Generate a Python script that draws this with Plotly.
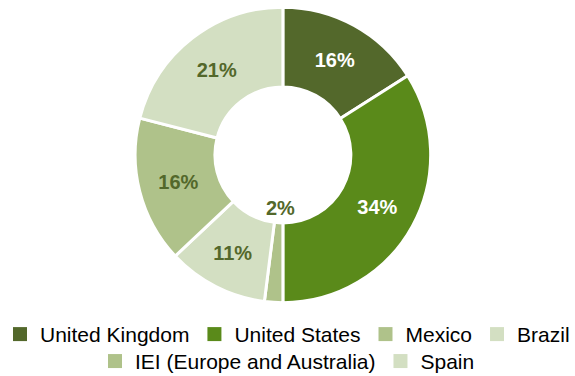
import plotly.graph_objects as go

labels = ["United Kingdom", "United States", "Mexico", "Brazil", "IEI (Europe and Australia)", "Spain"]
values = [16, 34, 2, 11, 16, 21]
colors = ["#53682B", "#5A8A1A", "#AFC28A", "#D3DFC2", "#AFC28A", "#D3DFC2"]
text_colors = ["#FFFFFF", "#FFFFFF", "#53682B", "#53682B", "#53682B", "#53682B"]
legend_rows = ["legend", "legend", "legend", "legend", "legend2", "legend2"]
texts = [f"{v}%" for v in values]
shown = [t if v >= 5 else "" for t, v in zip(texts, values)]

FONT = "Liberation Sans, Arial"

fig = go.Figure()
fig.add_trace(go.Pie(
    labels=labels, values=values, text=shown, textinfo="text",
    sort=False, direction="clockwise", rotation=0, hole=0.46,
    marker=dict(colors=colors, line=dict(color="white", width=3)),
    insidetextfont=dict(color=text_colors, size=20, family=FONT, weight="bold"),
    textposition="inside", insidetextorientation="horizontal",
    domain=dict(x=[0, 0.984], y=[0.195, 0.981]),
    showlegend=False, hoverinfo="label+percent",
))
# legend entries (two centred rows)
for lab, col, lg in zip(labels, colors, legend_rows):
    fig.add_trace(go.Scatter(x=[None], y=[None], mode="markers", name=lab,
                             marker=dict(symbol="square", size=14, color=col),
                             legend=lg, showlegend=True))

# small slice label placed in the hole
fig.add_annotation(text=texts[2], x=0.487, y=0.447, xref="paper", yref="paper",
                   showarrow=False, font=dict(color="#53682B", size=20, family=FONT, weight="bold"))

leg_common = dict(orientation="h", x=0.5, xanchor="center", yanchor="bottom",
                  font=dict(size=21, family=FONT, color="#000000"), itemwidth=30,
                  bgcolor="rgba(0,0,0,0)")
fig.update_layout(
    width=575, height=376, margin=dict(l=0, r=0, t=0, b=0, autoexpand=False),
    paper_bgcolor="white", plot_bgcolor="white",
    font=dict(family=FONT, size=21, color="#000000"),
    xaxis=dict(visible=False), yaxis=dict(visible=False),
    legend=dict(y=0.056, **leg_common),
    legend2=dict(y=-0.0157, **leg_common),
)
fig.write_html("out.html")
